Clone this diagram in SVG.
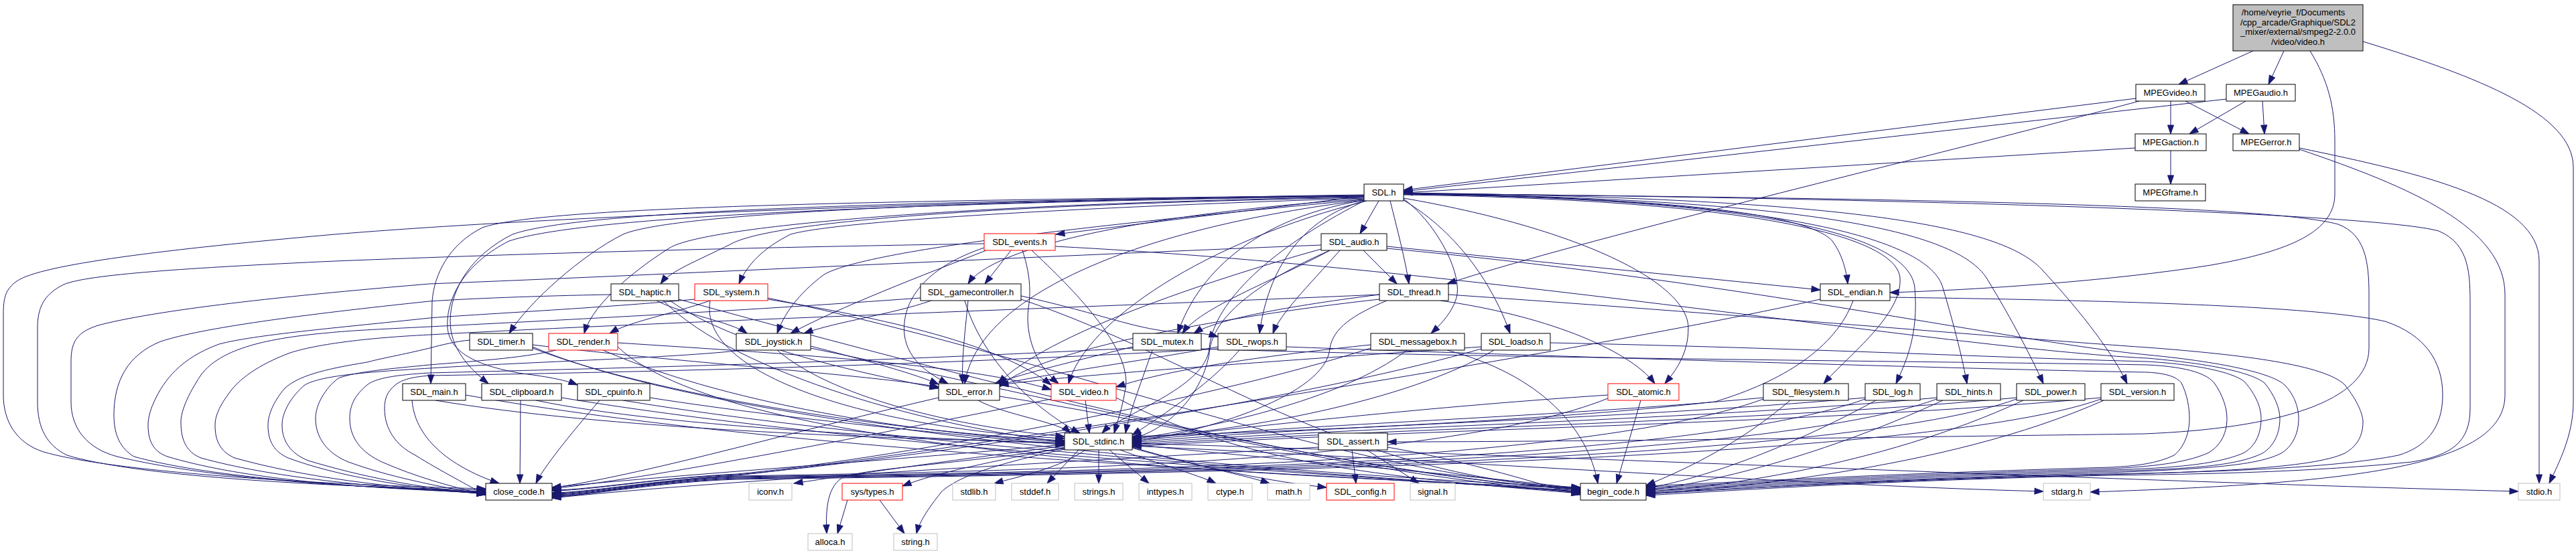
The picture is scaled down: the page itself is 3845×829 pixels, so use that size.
<svg xmlns="http://www.w3.org/2000/svg" width="3845" height="829" viewBox="0 0 3845 829">
<style>
.e{fill:none;stroke:#191970;stroke-width:1;marker-end:url(#ah)}
.node rect{fill:#ffffff;stroke:#000000;stroke-width:1}
.node.red rect{stroke:#ff0000}
.node.sys rect{stroke:#bfbfbf}
.node.root rect{fill:#bfbfbf;stroke:#000000}
.node text{font-family:"Liberation Sans",Arial,Helvetica,sans-serif;font-size:13px;fill:#000000;text-anchor:middle}
</style>
<defs>
<marker id="ah" markerUnits="userSpaceOnUse" markerWidth="13" markerHeight="9" refX="13" refY="4.5" orient="auto" overflow="visible">
<path d="M0,0 L13,4.5 L0,9 z" fill="#191970" stroke="#191970" stroke-width="1"/>
</marker>
</defs>
<rect x="0" y="0" width="3845" height="829" fill="#ffffff"/>
<g id="edges">
<path class="e" d="M3363,76 L3252,126"/>
<path class="e" d="M3409,76 L3386,126"/>
<path class="e" d="M3448,76 C3475,120 3485,160 3485,210 L3485,290 C3485,345 3420,375 3300,396 C3150,420 2950,433 2821,437"/>
<path class="e" d="M3527,62 C3700,115 3841,170 3841,250 L3841,600 C3841,650 3820,690 3805,722"/>
<path class="e" d="M3240,151 L3240,200"/>
<path class="e" d="M3262,151 L3357,200"/>
<path class="e" d="M3188,147 L2095,284"/>
<path class="e" d="M3193,151 C2900,230 2350,360 2160,424"/>
<path class="e" d="M3352,151 L3268,200"/>
<path class="e" d="M3377,151 L3380,200"/>
<path class="e" d="M3323,148 L2095,286"/>
<path class="e" d="M3240,225 L3240,275"/>
<path class="e" d="M3187,221 L2095,288"/>
<path class="e" d="M3432,221 C3620,260 3790,300 3790,390 L3790,722"/>
<path class="e" d="M3432,223 C3600,280 3739,340 3739,440 L3739,590 C3739,700 3500,722 3120,735"/>
<path class="e" d="M2036,291 C1400,300 800,325 500,350 C250,372 60,395 25,420 C8,432 5,445 5,470 L5,590 C5,630 25,662 65,675 C150,700 400,722 725,730"/>
<path class="e" d="M2036,293 L1576,350"/>
<path class="e" d="M2058,300 L2030,349"/>
<path class="e" d="M2075,300 C2085,340 2098,390 2103,424"/>
<path class="e" d="M2036,297 C1700,320 1480,370 1445,424"/>
<path class="e" d="M2036,295 C1500,305 1150,330 1090,365 C1040,390 1000,405 986,424"/>
<path class="e" d="M2036,296 C1600,310 1250,330 1180,350 C1140,370 1115,395 1103,424"/>
<path class="e" d="M2095,290 C2500,295 2700,320 2735,360 C2750,380 2756,405 2758,424"/>
<path class="e" d="M2036,293 C1400,300 1000,320 930,350 C870,380 790,450 760,498"/>
<path class="e" d="M2036,294 C1400,305 1050,340 1000,370 C960,395 885,450 872,498"/>
<path class="e" d="M2036,298 C1700,330 1300,370 1230,410 C1190,440 1170,470 1160,498"/>
<path class="e" d="M2036,299 C1850,330 1780,430 1758,498"/>
<path class="e" d="M2036,300 C1930,330 1890,420 1880,498"/>
<path class="e" d="M2095,297 C2140,330 2180,400 2175,440 C2170,465 2150,485 2136,498"/>
<path class="e" d="M2095,299 C2180,350 2230,430 2254,498"/>
<path class="e" d="M2036,292 C1200,300 800,312 720,340 C670,365 648,410 645,450 L643,573"/>
<path class="e" d="M2036,292 C1200,302 850,320 765,350 C705,380 672,430 672,480 C672,520 700,550 729,573"/>
<path class="e" d="M2036,293 C1200,305 850,330 760,360 C700,390 665,440 668,490 C672,530 720,548 780,558 C820,563 845,568 862,575"/>
<path class="e" d="M2036,299 C1700,340 1460,440 1440,573"/>
<path class="e" d="M2040,300 C1800,360 1620,480 1595,573"/>
<path class="e" d="M2095,296 C2350,340 2520,420 2520,490 C2520,530 2500,555 2485,573"/>
<path class="e" d="M2095,291 C2600,298 2830,350 2836,415 C2840,470 2760,530 2722,573"/>
<path class="e" d="M2095,290 C2600,296 2850,345 2858,430 C2864,500 2845,540 2830,573"/>
<path class="e" d="M2095,289 C2650,296 2880,355 2900,430 C2918,490 2930,540 2936,573"/>
<path class="e" d="M2095,289 C2700,297 2920,345 2965,415 C3005,480 3035,540 3050,573"/>
<path class="e" d="M2095,288 C2750,296 2990,335 3050,405 C3110,470 3155,530 3175,573"/>
<path class="e" d="M2036,300 C1880,380 1810,460 1805,520 C1800,580 1670,620 1645,647"/>
<path class="e" d="M2095,289 C2800,296 3380,305 3490,335 C3530,350 3536,390 3536,440 L3536,520 C3536,600 3400,640 3200,648 C2700,655 2300,660 2071,660"/>
<path class="e" d="M2095,289 C2900,296 3550,320 3640,345 C3687,365 3687,410 3687,460 L3687,610 C3687,660 3660,680 3600,690 C3450,705 3300,708 3150,710 C2800,718 2600,732 2457,740"/>
<path class="e" d="M1469,364 C1100,370 800,378 500,390 C280,400 130,410 95,425 C65,440 56,460 56,490 L56,600 C56,640 70,665 100,680 C200,710 450,726 725,732"/>
<path class="e" d="M1509,374 L1470,424"/>
<path class="e" d="M1472,374 C1380,410 1250,460 1180,498"/>
<path class="e" d="M1469,370 C1380,400 1345,450 1350,500 C1355,540 1390,560 1415,573"/>
<path class="e" d="M1526,374 C1535,400 1540,430 1535,460 C1530,500 1545,545 1580,573"/>
<path class="e" d="M1540,374 C1600,430 1690,520 1680,580 C1675,610 1668,630 1663,647"/>
<path class="e" d="M1575,368 C2200,400 2900,520 3205,535 C3320,545 3365,560 3380,572 C3395,590 3403,610 3403,625 C3403,650 3392,668 3377,677 C3340,695 3280,700 3150,704 C2800,714 2600,726 2457,732"/>
<path class="e" d="M1985,374 C1880,420 1815,470 1806,520 C1800,580 1750,640 1690,655"/>
<path class="e" d="M1972,372 C1800,420 1560,500 1490,573"/>
<path class="e" d="M2070,368 L2717,433"/>
<path class="e" d="M1985,374 C1900,420 1790,460 1765,498"/>
<path class="e" d="M2035,374 L2085,424"/>
<path class="e" d="M2000,374 C1950,430 1910,470 1900,498"/>
<path class="e" d="M2070,371 C2600,420 3000,510 3205,530 C3330,542 3395,560 3410,575 C3425,590 3431,610 3431,625 C3431,650 3420,668 3405,677 C3370,695 3300,700 3150,706 C2800,716 2600,728 2457,734"/>
<path class="e" d="M1972,366 C1500,385 1000,410 641,424 C450,440 250,460 150,485 C115,495 106,510 106,540 L106,600 C106,640 130,670 175,682 C300,712 500,728 725,734"/>
<path class="e" d="M990,449 C1100,560 1400,640 1589,660"/>
<path class="e" d="M1000,449 C1100,520 1300,560 1401,580"/>
<path class="e" d="M980,449 C1020,470 1090,480 1115,498"/>
<path class="e" d="M1013,447 C1500,580 2000,710 2359,731"/>
<path class="e" d="M912,440 C800,442 700,446 641,450 C450,470 300,490 240,510 C190,530 170,570 170,620 C170,650 180,670 200,682 C300,710 500,728 725,735"/>
<path class="e" d="M1060,449 C1040,560 1300,640 1589,655"/>
<path class="e" d="M1060,449 C1000,470 940,480 910,498"/>
<path class="e" d="M1146,447 C1350,480 1500,520 1569,575"/>
<path class="e" d="M1146,445 C1600,540 2000,710 2359,729"/>
<path class="e" d="M1037,447 C900,460 700,470 641,475 C500,490 380,500 327,514 C270,535 245,567 230,600 C223,615 221,627 221,635 C221,660 230,675 250,682 C350,712 500,728 725,736"/>
<path class="e" d="M1440,449 C1470,550 1560,620 1612,647"/>
<path class="e" d="M1445,449 C1440,500 1435,540 1437,573"/>
<path class="e" d="M1524,442 C1650,470 1700,494 1760,496 C1790,497 1805,499 1818,503"/>
<path class="e" d="M1390,449 C1330,470 1250,480 1200,498"/>
<path class="e" d="M1524,447 C1800,540 2000,710 2359,730"/>
<path class="e" d="M1374,445 C1100,465 800,480 641,488 C560,492 520,494 491,497 C400,505 330,520 300,560 C280,590 270,615 270,630 C270,660 280,676 300,684 C400,712 550,728 725,737"/>
<path class="e" d="M2070,449 C2020,470 1990,490 1985,520 C1980,590 1800,645 1690,660"/>
<path class="e" d="M2059,447 C1850,470 1550,520 1492,578"/>
<path class="e" d="M2150,449 C2300,470 2430,520 2470,573"/>
<path class="e" d="M2059,440 C1900,460 1810,480 1782,498"/>
<path class="e" d="M2162,440 C2600,470 3000,505 3205,519 C3350,530 3470,545 3500,575 C3520,600 3527,620 3527,630 C3527,655 3515,668 3500,677 C3450,700 3300,705 3100,710 C2800,718 2600,730 2457,736"/>
<path class="e" d="M2059,440 C1600,460 1000,480 641,500 C540,505 470,515 433,527 C385,545 355,567 340,590 C325,610 321,625 321,635 C321,660 330,675 350,684 C450,712 580,729 725,737"/>
<path class="e" d="M2766,449 C2740,520 2660,570 2560,600 C2300,630 1900,645 1690,652"/>
<path class="e" d="M2821,444 C3100,448 3450,455 3560,480 C3620,500 3646,540 3646,590 C3646,640 3620,668 3580,680 C3480,700 3300,705 3150,708 C2800,716 2600,730 2457,738"/>
<path class="e" d="M2717,447 C2300,540 1300,690 1100,710 C980,715 880,742 824,742"/>
<path class="e" d="M795,520 C1000,600 1400,650 1589,658"/>
<path class="e" d="M795,515 C1000,540 1300,560 1401,578"/>
<path class="e" d="M795,518 C1100,650 2000,712 2359,728"/>
<path class="e" d="M701,508 C680,510 660,515 641,520 C600,530 570,535 548,541 C480,552 445,562 425,580 C408,600 400,620 400,635 C400,660 410,675 430,684 C500,710 600,728 725,738"/>
<path class="e" d="M900,523 C1100,610 1400,650 1589,660"/>
<path class="e" d="M922,512 C1200,530 1450,545 1569,582"/>
<path class="e" d="M922,518 C1100,690 2000,712 2359,730"/>
<path class="e" d="M830,523 C780,535 700,540 641,545 C590,550 530,555 505,565 C485,580 471,605 471,625 C471,655 490,678 520,690 C580,712 650,726 725,739"/>
<path class="e" d="M1160,523 C1250,600 1450,640 1589,652"/>
<path class="e" d="M1210,517 C1300,540 1370,560 1401,574"/>
<path class="e" d="M1210,520 C1600,600 2000,705 2359,732"/>
<path class="e" d="M1110,523 C1000,535 800,540 641,550 C560,555 480,560 455,575 C435,592 421,615 421,635 C421,660 435,678 460,688 C540,712 620,728 725,738"/>
<path class="e" d="M1720,523 C1700,580 1685,620 1680,647"/>
<path class="e" d="M1691,518 C1600,540 1520,560 1485,573"/>
<path class="e" d="M1793,521 C2200,535 3000,541 3205,545 C3270,548 3295,560 3305,572 C3318,590 3324,610 3324,625 C3324,650 3312,668 3295,677 C3260,692 3210,697 3150,700 C2800,710 2600,722 2457,728"/>
<path class="e" d="M1691,520 C1300,540 1000,548 641,557 C590,560 560,565 548,575 C530,590 522,605 522,625 C522,655 540,676 570,690 C620,712 670,726 725,739"/>
<path class="e" d="M1850,523 C1800,580 1720,630 1690,650"/>
<path class="e" d="M1818,518 C1700,540 1550,560 1490,575"/>
<path class="e" d="M1920,518 C2300,532 3000,553 3205,556 C3240,558 3250,565 3256,572 C3265,590 3268,610 3268,625 C3268,650 3258,670 3245,680 C3220,692 3190,696 3150,698 C2800,708 2600,720 2457,726"/>
<path class="e" d="M1818,521 C1400,545 1000,555 641,561 C615,563 600,567 590,575 C578,585 574,595 574,610 C574,640 590,665 620,680 C660,705 700,725 725,740"/>
<path class="e" d="M2100,523 C2000,600 1800,640 1690,656"/>
<path class="e" d="M2046,515 C1900,530 1750,550 1666,578"/>
<path class="e" d="M2160,523 C2300,560 2370,640 2385,722"/>
<path class="e" d="M2046,520 C1800,600 1300,690 1100,708 C980,714 880,732 824,732"/>
<path class="e" d="M2230,523 C2100,600 1850,645 1690,654"/>
<path class="e" d="M2211,518 C1900,540 1600,560 1492,575"/>
<path class="e" d="M2314,512 C2700,520 3000,535 3205,540 C3290,545 3335,558 3350,570 C3368,590 3375,610 3375,625 C3375,650 3365,668 3348,677 C3310,693 3250,699 3150,702 C2800,712 2600,724 2457,730"/>
<path class="e" d="M2211,521 C1900,610 1300,692 1100,709 C980,714 880,733 824,733"/>
<path class="e" d="M615,598 C620,660 680,700 745,722"/>
<path class="e" d="M650,598 C900,640 1300,655 1589,661"/>
<path class="e" d="M695,590 C1200,680 2000,710 2359,733"/>
<path class="e" d="M777,598 L776,722"/>
<path class="e" d="M800,598 C1000,640 1400,655 1589,663"/>
<path class="e" d="M838,594 C1300,670 2000,710 2359,734"/>
<path class="e" d="M895,598 C850,650 810,700 800,722"/>
<path class="e" d="M970,594 C1200,630 1450,650 1589,665"/>
<path class="e" d="M930,598 C1300,660 2000,710 2359,735"/>
<path class="e" d="M1460,598 C1500,620 1580,630 1598,647"/>
<path class="e" d="M1492,592 C1800,640 2000,705 2359,736"/>
<path class="e" d="M1401,594 C1200,640 980,705 824,729"/>
<path class="e" d="M1620,598 L1626,647"/>
<path class="e" d="M1666,594 C1850,690 2050,712 2359,737"/>
<path class="e" d="M1569,596 C1300,650 1000,710 824,730"/>
<path class="e" d="M2400,590 C2100,610 1850,640 1690,657"/>
<path class="e" d="M2449,598 L2413,722"/>
<path class="e" d="M2400,595 C2150,695 1500,704 1100,711 C980,716 880,736 824,736"/>
<path class="e" d="M2632,594 C2300,625 1900,635 1690,659"/>
<path class="e" d="M2672,598 C2600,660 2520,700 2457,725"/>
<path class="e" d="M2632,596 C2350,700 1500,706 1100,712 C980,716 880,737 824,737"/>
<path class="e" d="M2784,594 C2400,628 1950,636 1690,661"/>
<path class="e" d="M2800,598 C2650,680 2520,720 2457,729"/>
<path class="e" d="M2784,596 C2500,700 1500,707 1100,713 C980,717 880,738 824,738"/>
<path class="e" d="M2891,594 C2500,630 2000,638 1690,663"/>
<path class="e" d="M2900,598 C2700,690 2530,725 2457,732"/>
<path class="e" d="M2891,596 C2610,700 1500,708 1100,714 C980,718 880,739 824,739"/>
<path class="e" d="M3010,594 C2600,632 2050,640 1690,665"/>
<path class="e" d="M3020,598 C2800,700 2550,728 2457,735"/>
<path class="e" d="M3010,596 C2730,700 1500,709 1100,715 C980,719 880,740 824,740"/>
<path class="e" d="M3136,594 C2700,634 2100,641 1690,667"/>
<path class="e" d="M3140,598 C2900,705 2560,730 2457,738"/>
<path class="e" d="M3136,596 C2850,700 1500,710 1100,716 C980,720 880,741 824,741"/>
<path class="e" d="M1690,668 C1800,700 1900,720 1980,728"/>
<path class="e" d="M1589,668 C1480,690 1400,705 1347,726"/>
<path class="e" d="M1690,662 C2300,680 3200,720 3759,734"/>
<path class="e" d="M1620,672 C1580,700 1520,712 1484,722"/>
<path class="e" d="M1610,672 L1563,722"/>
<path class="e" d="M1640,672 L1640,722"/>
<path class="e" d="M1656,672 L1715,722"/>
<path class="e" d="M1672,672 C1720,690 1790,710 1815,722"/>
<path class="e" d="M1690,669 C1760,690 1860,710 1895,722"/>
<path class="e" d="M1589,666 C1400,690 1250,712 1185,722"/>
<path class="e" d="M1589,670 C1400,695 1300,700 1260,712 C1235,725 1232,760 1234,797"/>
<path class="e" d="M1589,671 C1500,690 1430,710 1405,735 C1385,760 1372,780 1368,797"/>
<path class="e" d="M1690,664 C1950,690 2250,715 2359,730"/>
<path class="e" d="M1589,664 C1300,690 1000,710 824,728"/>
<path class="e" d="M1690,666 C2200,690 2700,725 3050,734"/>
<path class="e" d="M2018,672 L2024,722"/>
<path class="e" d="M2040,672 L2118,722"/>
<path class="e" d="M2071,668 C2200,690 2300,725 2359,739"/>
<path class="e" d="M1968,668 C1600,690 1100,715 824,744"/>
<path class="e" d="M1265,747 L1250,797"/>
<path class="e" d="M1313,747 L1350,797"/>
</g>
<g id="n_root" class="node root"><rect x="3333" y="7" width="194" height="69"/><text x="3423" y="23">/home/veyrie_f/Documents</text><text x="3430" y="37.7">/cpp_arcade/Graphique/SDL2</text><text x="3430" y="52.3">_mixer/external/smpeg2-2.0.0</text><text x="3430" y="67">/video/video.h</text></g>
<g id="n_MPEGvideo" class="node"><rect x="3188" y="126" width="103" height="25"/><text x="3239.5" y="143">MPEGvideo.h</text></g>
<g id="n_MPEGaudio" class="node"><rect x="3323" y="126" width="103" height="25"/><text x="3374.5" y="143">MPEGaudio.h</text></g>
<g id="n_MPEGaction" class="node"><rect x="3187" y="200" width="106" height="25"/><text x="3240" y="217">MPEGaction.h</text></g>
<g id="n_MPEGerror" class="node"><rect x="3333" y="200" width="99" height="25"/><text x="3382.5" y="217">MPEGerror.h</text></g>
<g id="n_SDL" class="node"><rect x="2036" y="275" width="59" height="25"/><text x="2065.5" y="292">SDL.h</text></g>
<g id="n_MPEGframe" class="node"><rect x="3187" y="275" width="105" height="25"/><text x="3239.5" y="292">MPEGframe.h</text></g>
<g id="n_SDL_events" class="node red"><rect x="1469" y="349" width="106" height="25"/><text x="1522" y="366">SDL_events.h</text></g>
<g id="n_SDL_audio" class="node"><rect x="1972" y="349" width="98" height="25"/><text x="2021" y="366">SDL_audio.h</text></g>
<g id="n_SDL_haptic" class="node"><rect x="912" y="424" width="101" height="25"/><text x="962.5" y="441">SDL_haptic.h</text></g>
<g id="n_SDL_system" class="node red"><rect x="1037" y="424" width="109" height="25"/><text x="1091.5" y="441">SDL_system.h</text></g>
<g id="n_SDL_gamecontroller" class="node"><rect x="1374" y="424" width="150" height="25"/><text x="1449" y="441">SDL_gamecontroller.h</text></g>
<g id="n_SDL_thread" class="node"><rect x="2059" y="424" width="103" height="25"/><text x="2110.5" y="441">SDL_thread.h</text></g>
<g id="n_SDL_endian" class="node"><rect x="2717" y="424" width="104" height="25"/><text x="2769" y="441">SDL_endian.h</text></g>
<g id="n_SDL_timer" class="node"><rect x="701" y="498" width="94" height="25"/><text x="748" y="515">SDL_timer.h</text></g>
<g id="n_SDL_render" class="node red"><rect x="819" y="498" width="103" height="25"/><text x="870.5" y="515">SDL_render.h</text></g>
<g id="n_SDL_joystick" class="node"><rect x="1099" y="498" width="111" height="25"/><text x="1154.5" y="515">SDL_joystick.h</text></g>
<g id="n_SDL_mutex" class="node"><rect x="1691" y="498" width="102" height="25"/><text x="1742" y="515">SDL_mutex.h</text></g>
<g id="n_SDL_rwops" class="node"><rect x="1818" y="498" width="102" height="25"/><text x="1869" y="515">SDL_rwops.h</text></g>
<g id="n_SDL_messagebox" class="node"><rect x="2046" y="498" width="140" height="25"/><text x="2116" y="515">SDL_messagebox.h</text></g>
<g id="n_SDL_loadso" class="node"><rect x="2211" y="498" width="103" height="25"/><text x="2262.5" y="515">SDL_loadso.h</text></g>
<g id="n_SDL_main" class="node"><rect x="601" y="573" width="94" height="25"/><text x="648" y="590">SDL_main.h</text></g>
<g id="n_SDL_clipboard" class="node"><rect x="719" y="573" width="119" height="25"/><text x="778.5" y="590">SDL_clipboard.h</text></g>
<g id="n_SDL_cpuinfo" class="node"><rect x="862" y="573" width="108" height="25"/><text x="916" y="590">SDL_cpuinfo.h</text></g>
<g id="n_SDL_error" class="node"><rect x="1401" y="573" width="91" height="25"/><text x="1446.5" y="590">SDL_error.h</text></g>
<g id="n_SDL_video" class="node red"><rect x="1569" y="573" width="97" height="25"/><text x="1617.5" y="590">SDL_video.h</text></g>
<g id="n_SDL_atomic" class="node red"><rect x="2400" y="573" width="106" height="25"/><text x="2453" y="590">SDL_atomic.h</text></g>
<g id="n_SDL_filesystem" class="node"><rect x="2632" y="573" width="127" height="25"/><text x="2695.5" y="590">SDL_filesystem.h</text></g>
<g id="n_SDL_log" class="node"><rect x="2784" y="573" width="82" height="25"/><text x="2825" y="590">SDL_log.h</text></g>
<g id="n_SDL_hints" class="node"><rect x="2891" y="573" width="95" height="25"/><text x="2938.5" y="590">SDL_hints.h</text></g>
<g id="n_SDL_power" class="node"><rect x="3010" y="573" width="102" height="25"/><text x="3061" y="590">SDL_power.h</text></g>
<g id="n_SDL_version" class="node"><rect x="3136" y="573" width="109" height="25"/><text x="3190.5" y="590">SDL_version.h</text></g>
<g id="n_SDL_stdinc" class="node"><rect x="1589" y="647" width="101" height="25"/><text x="1639.5" y="664">SDL_stdinc.h</text></g>
<g id="n_SDL_assert" class="node"><rect x="1968" y="647" width="103" height="25"/><text x="2019.5" y="664">SDL_assert.h</text></g>
<g id="n_close_code" class="node"><rect x="725" y="722" width="99" height="25"/><text x="774.5" y="739">close_code.h</text></g>
<g id="n_iconv" class="node sys"><rect x="1118" y="722" width="64" height="25"/><text x="1150" y="739">iconv.h</text></g>
<g id="n_sys_types" class="node red"><rect x="1257" y="722" width="90" height="25"/><text x="1302" y="739">sys/types.h</text></g>
<g id="n_stdlib" class="node sys"><rect x="1422" y="722" width="64" height="25"/><text x="1454" y="739">stdlib.h</text></g>
<g id="n_stddef" class="node sys"><rect x="1510" y="722" width="70" height="25"/><text x="1545" y="739">stddef.h</text></g>
<g id="n_strings" class="node sys"><rect x="1604" y="722" width="72" height="25"/><text x="1640" y="739">strings.h</text></g>
<g id="n_inttypes" class="node sys"><rect x="1700" y="722" width="79" height="25"/><text x="1739.5" y="739">inttypes.h</text></g>
<g id="n_ctype" class="node sys"><rect x="1803" y="722" width="66" height="25"/><text x="1836" y="739">ctype.h</text></g>
<g id="n_math" class="node sys"><rect x="1892" y="722" width="63" height="25"/><text x="1923.5" y="739">math.h</text></g>
<g id="n_SDL_config" class="node red"><rect x="1980" y="722" width="101" height="25"/><text x="2030.5" y="739">SDL_config.h</text></g>
<g id="n_signal" class="node sys"><rect x="2105" y="722" width="67" height="25"/><text x="2138.5" y="739">signal.h</text></g>
<g id="n_begin_code" class="node"><rect x="2359" y="722" width="98" height="25"/><text x="2408" y="739">begin_code.h</text></g>
<g id="n_stdarg" class="node sys"><rect x="3050" y="722" width="70" height="25"/><text x="3085" y="739">stdarg.h</text></g>
<g id="n_stdio" class="node sys"><rect x="3759" y="722" width="62" height="25"/><text x="3790" y="739">stdio.h</text></g>
<g id="n_alloca" class="node sys"><rect x="1206" y="797" width="66" height="25"/><text x="1239" y="814">alloca.h</text></g>
<g id="n_string" class="node sys"><rect x="1334" y="797" width="65" height="25"/><text x="1366.5" y="814">string.h</text></g>
</svg>
